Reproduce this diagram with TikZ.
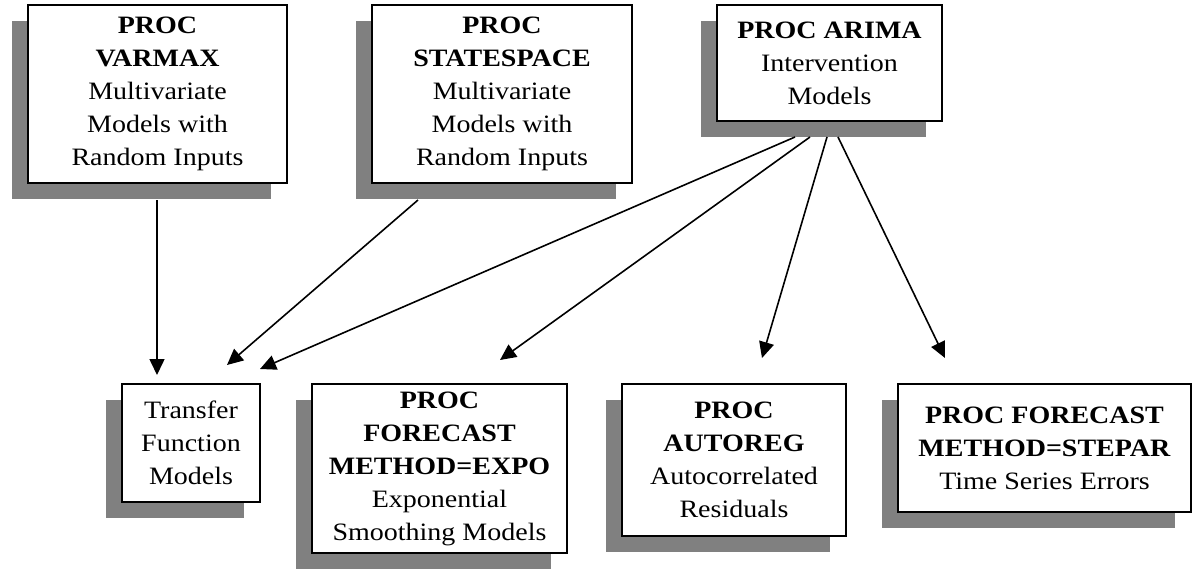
\documentclass[tikz,border=0pt]{standalone}
\usepackage{fontspec}
\setmainfont[FakeStretch=1.12]{Liberation Serif}
\usetikzlibrary{arrows.meta,shadows}
\begin{document}
\begin{tikzpicture}[x=1pt,y=-1pt,
  procbox/.style={draw=black, line width=2pt, fill=white, align=center,
    inner sep=0pt, font=\fontsize{25}{33}\selectfont,
    drop shadow={shadow xshift=-16.5pt, shadow yshift=-16pt, fill=black!50, opacity=1, draw=none}},
  link/.style={line width=1.6pt, -{Triangle[length=16pt,width=15pt]}}]
\useasboundingbox (0,0) rectangle (1193,580);

\node[procbox, minimum width=259, minimum height=178] (varmax) at (157.5,94)
  {\textbf{PROC}\\\textbf{VARMAX}\\Multivariate\\Models with\\Random Inputs};
\node[procbox, minimum width=260, minimum height=178] (statespace) at (502,94)
  {\textbf{PROC}\\\textbf{STATESPACE}\\Multivariate\\Models with\\Random Inputs};
\node[procbox, minimum width=225, minimum height=116] (arima) at (829.5,63)
  {\textbf{PROC ARIMA}\\Intervention\\Models};
\node[procbox, minimum width=138, minimum height=118] (transfer) at (191,443)
  {Transfer\\Function\\Models};
\node[procbox, minimum width=255, minimum height=169] (expo) at (439.5,468.5)
  {\textbf{PROC}\\\textbf{FORECAST}\\\textbf{METHOD=EXPO}\\Exponential\\Smoothing Models};
\node[procbox, minimum width=224, minimum height=152] (autoreg) at (734,460)
  {\textbf{PROC}\\\textbf{AUTOREG}\\Autocorrelated\\Residuals};
\node[procbox, minimum width=293, minimum height=128] (stepar) at (1044.5,448)
  {\textbf{PROC FORECAST}\\\textbf{METHOD=STEPAR}\\Time Series Errors};

% arrow start points (bottom of the shadows)
\coordinate (vs) at (157,200);
\coordinate (ss) at (418,200);
\coordinate (as1) at (795,137);
\coordinate (as2) at (810,137);
\coordinate (as3) at (827,137);
\coordinate (as4) at (838,137);
% arrow tips
\coordinate (tv) at (157,375);
\coordinate (ts) at (227,365);
\coordinate (ta) at (260,369);
\coordinate (te) at (500,360);
\coordinate (tr) at (762,358);
\coordinate (tp) at (945,358);

\draw[link] (vs) -- (tv);
\draw[link] (ss) -- (ts);
\draw[link] (as1) -- (ta);
\draw[link] (as2) -- (te);
\draw[link] (as3) -- (tr);
\draw[link] (as4) -- (tp);
\end{tikzpicture}
\end{document}
